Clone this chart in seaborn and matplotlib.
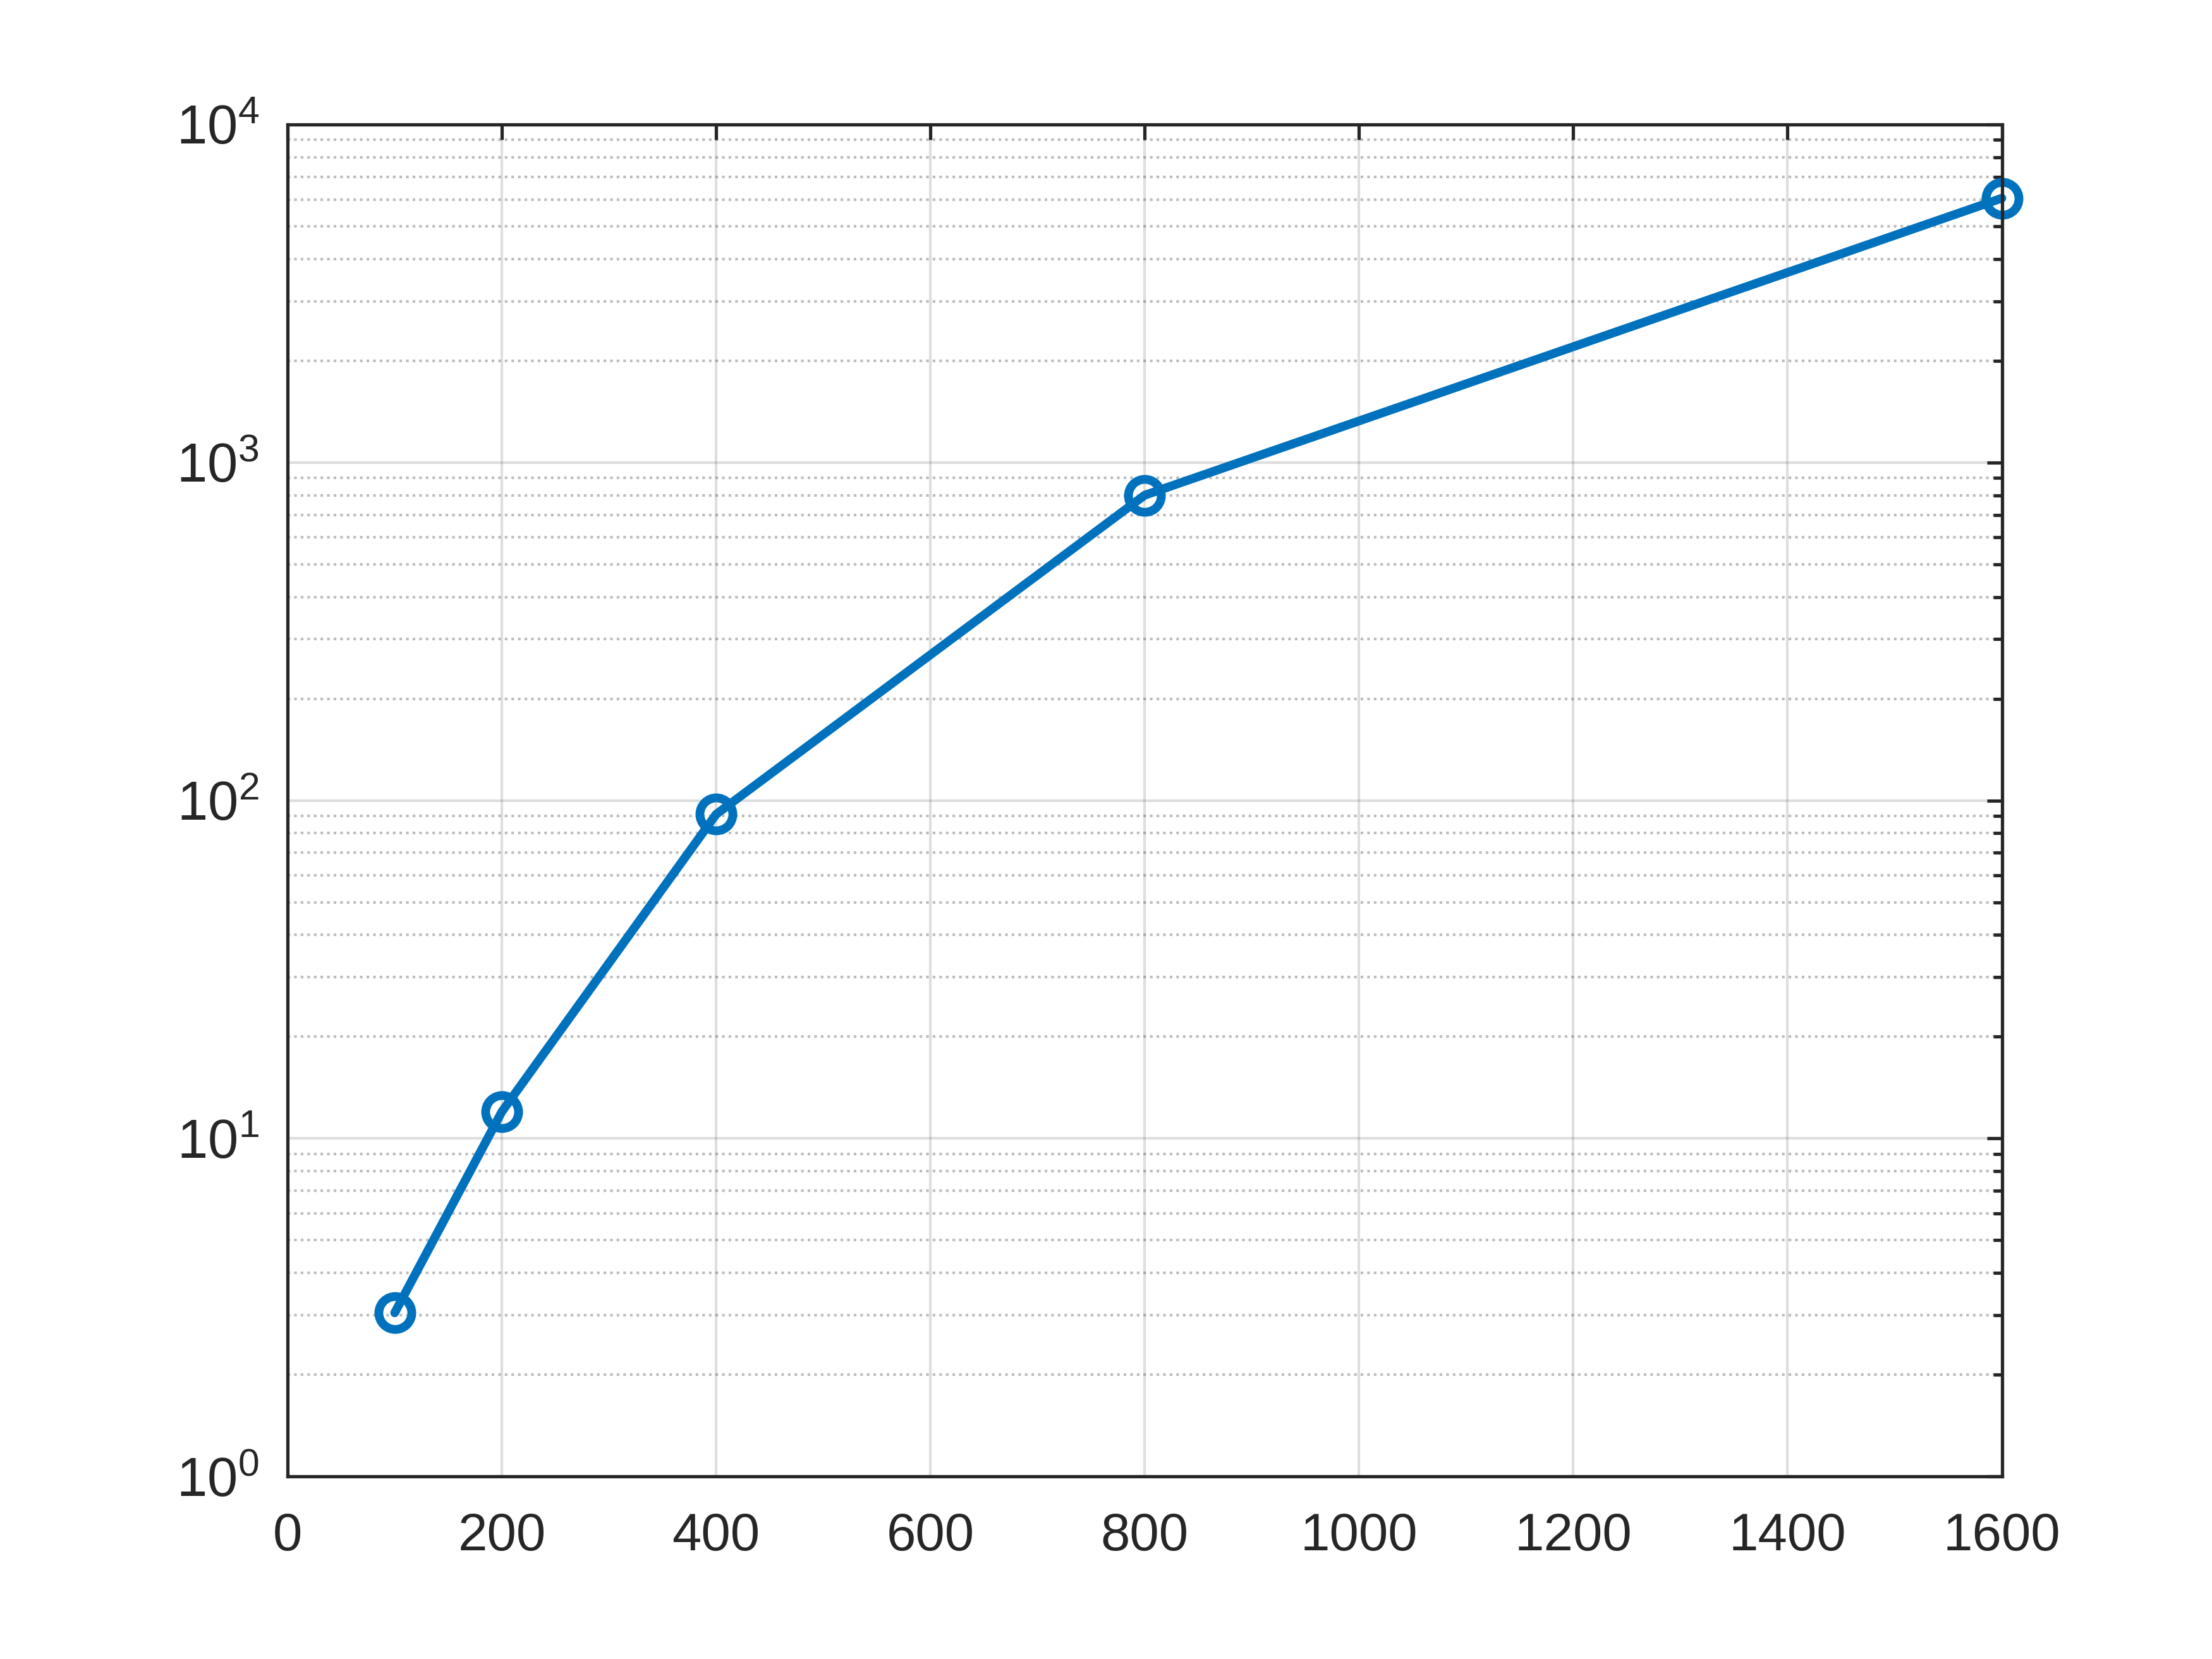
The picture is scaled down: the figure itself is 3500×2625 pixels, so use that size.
import matplotlib
matplotlib.use('Agg')
import math
import matplotlib.pyplot as plt
import matplotlib.ticker as mticker
import seaborn as sns
import pandas as pd

# values
n_size = [100, 200, 400, 800, 1600]
run_time = [3.05, 12.0, 91.0, 800.0, 6050.0]
x_ticks = [0, 200, 400, 600, 800, 1000, 1200, 1400, 1600]

df = pd.DataFrame({'n': n_size, 't': run_time})

sns.set_theme(style='white')
plt.rcParams['font.family'] = ['Liberation Sans', 'DejaVu Sans']
plt.rcParams['mathtext.fontset'] = 'custom'
plt.rcParams['mathtext.rm'] = 'Liberation Sans'
plt.rcParams['mathtext.it'] = 'Liberation Sans'

txt = '#262626'
fig = plt.figure(figsize=(14, 10.5), dpi=250)
ax = fig.add_axes([0.13, 0.11, 0.775, 0.815])

sns.lineplot(ax=ax, data=df, x='n', y='t', color='#0072BD', linewidth=4.0,
             marker='o', markersize=15, markerfacecolor='none',
             markeredgecolor='#0072BD', markeredgewidth=4.0, clip_on=False)

ax.set_yscale('log')
ax.set_xlim(0, 1600)
ax.set_ylim(1, 1e4)
ax.set_xticks(x_ticks)
ax.set_xticklabels([str(v) for v in x_ticks])
ax.yaxis.set_major_locator(mticker.LogLocator(base=10, numticks=10))
ax.yaxis.set_major_formatter(mticker.FuncFormatter(
    lambda v, p: r'$\mathregular{10^{%d}}$' % round(math.log10(v))))
ax.yaxis.set_minor_locator(mticker.LogLocator(base=10, subs=range(2, 10), numticks=50))
ax.yaxis.set_minor_formatter(mticker.NullFormatter())
ax.set_xlabel('')
ax.set_ylabel('')

ax.grid(True, which='major', axis='both', color='#262626', alpha=0.15, linewidth=1.2, linestyle='-')
ax.grid(True, which='minor', axis='y', color='#262626', alpha=0.3, linewidth=1.2, linestyle=(0, (1, 1.5)))
ax.set_axisbelow(True)

for s in ax.spines.values():
    s.set_visible(True)
    s.set_color(txt)
    s.set_linewidth(1.5)

ax.tick_params(which='both', direction='in', top=True, right=True, colors=txt,
               labelcolor=txt)
ax.tick_params(which='major', length=7, width=1.5)
ax.tick_params(which='minor', length=4, width=1.5)
ax.tick_params(axis='x', labelsize=24, pad=16)
ax.tick_params(axis='y', labelsize=25, pad=13)

fig.savefig('out.png', dpi=250, facecolor='white')
